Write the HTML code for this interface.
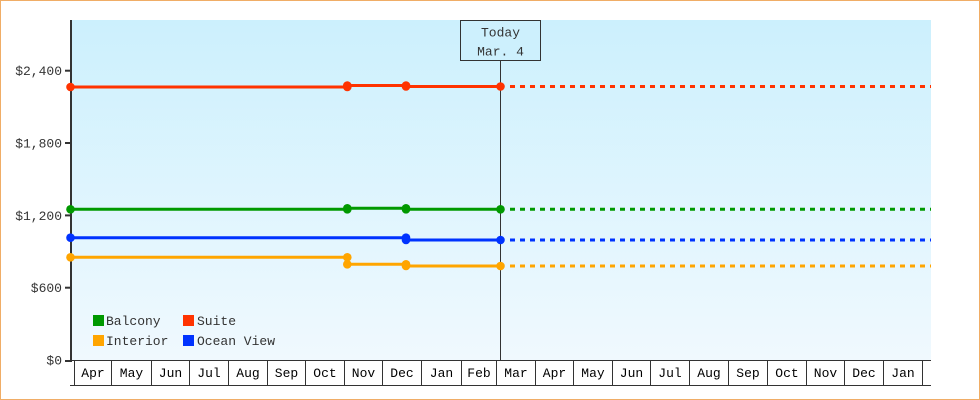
<!DOCTYPE html>
<html><head><meta charset="utf-8"><style>
html,body{margin:0;padding:0;background:#fff;}
svg{display:block;}
text{font-family:"Liberation Mono","DejaVu Sans Mono",monospace;font-size:13px;}
</style></head><body>
<svg width="980" height="400" viewBox="0 0 980 400" xmlns="http://www.w3.org/2000/svg">
<defs>
<linearGradient id="bg" x1="0" y1="0" x2="0" y2="1">
<stop offset="0" stop-color="#ccf0fd"/>
<stop offset="1" stop-color="#f0f9fe"/>
</linearGradient>
</defs>
<rect x="0.5" y="0.5" width="979" height="399" fill="#fff" stroke="#f0ad66" stroke-width="1"/>
<rect x="72" y="20" width="859" height="340" fill="url(#bg)"/>

<!-- y axis -->
<rect x="70" y="20" width="2" height="342" fill="#333"/>
<g fill="#333">
<rect x="65" y="69.7" width="5" height="2"/>
<rect x="65" y="142" width="5" height="2"/>
<rect x="65" y="214.4" width="5" height="2"/>
<rect x="65" y="286.7" width="5" height="2"/>
<rect x="65" y="360" width="5" height="2"/>
</g>
<g fill="#333" text-anchor="end">
<text x="62" y="75">$2,400</text>
<text x="62" y="147.5">$1,800</text>
<text x="62" y="220">$1,200</text>
<text x="62" y="292">$600</text>
<text x="62" y="364.5">$0</text>
</g>

<!-- month boxes -->
<g stroke="#333" stroke-width="1" fill="none">
<line x1="72" y1="360.5" x2="931" y2="360.5"/>
<line x1="70" y1="385.5" x2="931" y2="385.5"/>
<line x1="74.5" y1="360" x2="74.5" y2="385"/>
<line x1="111.5" y1="360" x2="111.5" y2="385"/>
<line x1="151.5" y1="360" x2="151.5" y2="385"/>
<line x1="189.5" y1="360" x2="189.5" y2="385"/>
<line x1="228.5" y1="360" x2="228.5" y2="385"/>
<line x1="267.5" y1="360" x2="267.5" y2="385"/>
<line x1="305.5" y1="360" x2="305.5" y2="385"/>
<line x1="344.5" y1="360" x2="344.5" y2="385"/>
<line x1="382.5" y1="360" x2="382.5" y2="385"/>
<line x1="421.5" y1="360" x2="421.5" y2="385"/>
<line x1="461.5" y1="360" x2="461.5" y2="385"/>
<line x1="496.5" y1="360" x2="496.5" y2="385"/>
<line x1="535.5" y1="360" x2="535.5" y2="385"/>
<line x1="573.5" y1="360" x2="573.5" y2="385"/>
<line x1="612.5" y1="360" x2="612.5" y2="385"/>
<line x1="650.5" y1="360" x2="650.5" y2="385"/>
<line x1="689.5" y1="360" x2="689.5" y2="385"/>
<line x1="728.5" y1="360" x2="728.5" y2="385"/>
<line x1="767.5" y1="360" x2="767.5" y2="385"/>
<line x1="806.5" y1="360" x2="806.5" y2="385"/>
<line x1="844.5" y1="360" x2="844.5" y2="385"/>
<line x1="883.5" y1="360" x2="883.5" y2="385"/>
<line x1="922.5" y1="360" x2="922.5" y2="385"/>
</g>
<g fill="#000" text-anchor="middle">
<text x="93" y="377">Apr</text>
<text x="131.5" y="377">May</text>
<text x="170.5" y="377">Jun</text>
<text x="209" y="377">Jul</text>
<text x="248" y="377">Aug</text>
<text x="286.5" y="377">Sep</text>
<text x="325" y="377">Oct</text>
<text x="363.5" y="377">Nov</text>
<text x="402" y="377">Dec</text>
<text x="441.5" y="377">Jan</text>
<text x="479" y="377">Feb</text>
<text x="516" y="377">Mar</text>
<text x="554.5" y="377">Apr</text>
<text x="593" y="377">May</text>
<text x="631.5" y="377">Jun</text>
<text x="670" y="377">Jul</text>
<text x="709" y="377">Aug</text>
<text x="748" y="377">Sep</text>
<text x="787" y="377">Oct</text>
<text x="825.5" y="377">Nov</text>
<text x="864" y="377">Dec</text>
<text x="903" y="377">Jan</text>
</g>

<!-- today line & box -->
<line x1="500.5" y1="60" x2="500.5" y2="360" stroke="#333" stroke-width="1"/>
<rect x="460.5" y="20.5" width="80" height="40" fill="#cdf0fd" stroke="#333" stroke-width="1"/>
<text x="500.5" y="36.5" text-anchor="middle" fill="#333">Today</text>
<text x="500.5" y="55.5" text-anchor="middle" fill="#333">Mar. 4</text>

<!-- series lines -->
<g stroke-width="3" fill="none">
<g stroke="#ff3300">
<line x1="70.5" y1="87" x2="347.3" y2="87"/>
<line x1="347.3" y1="85.5" x2="406" y2="85.5"/>
<line x1="406" y1="86.5" x2="500.5" y2="86.5"/>
<line x1="510" y1="86.5" x2="931" y2="86.5" stroke-dasharray="5 5"/>
</g>
<g stroke="#009900">
<line x1="70.5" y1="209.3" x2="347.3" y2="209.3"/>
<line x1="347.3" y1="208.3" x2="406" y2="208.3"/>
<line x1="406" y1="209.3" x2="500.5" y2="209.3"/>
<line x1="510" y1="209.3" x2="931" y2="209.3" stroke-dasharray="5 5"/>
</g>
<g stroke="#0033ff">
<line x1="70.5" y1="237.7" x2="406" y2="237.7"/>
<line x1="406" y1="240" x2="500.5" y2="240"/>
<line x1="510" y1="240" x2="931" y2="240" stroke-dasharray="5 5"/>
</g>
<g stroke="#ffa500">
<line x1="70.5" y1="257.3" x2="347.3" y2="257.3"/>
<line x1="347.3" y1="264.3" x2="406" y2="264.3"/>
<line x1="406" y1="266" x2="500.5" y2="266"/>
<line x1="510" y1="266" x2="931" y2="266" stroke-dasharray="5 5"/>
</g>
</g>

<!-- markers -->
<g fill="#ff3300">
<circle cx="70.5" cy="87" r="4.3"/>
<circle cx="347.3" cy="87" r="4.3"/><circle cx="347.3" cy="85.5" r="4.3"/>
<circle cx="406" cy="85.5" r="4.3"/><circle cx="406" cy="86.5" r="4.3"/>
<circle cx="500.5" cy="86.5" r="4.3"/>
</g>
<g fill="#009900">
<circle cx="70.5" cy="209.3" r="4.3"/>
<circle cx="347.3" cy="209.3" r="4.3"/><circle cx="347.3" cy="208.3" r="4.3"/>
<circle cx="406" cy="208.3" r="4.3"/><circle cx="406" cy="209.3" r="4.3"/>
<circle cx="500.5" cy="209.3" r="4.3"/>
</g>
<g fill="#0033ff">
<circle cx="70.5" cy="237.7" r="4.3"/>
<circle cx="406" cy="237.7" r="4.3"/><circle cx="406" cy="240" r="4.3"/>
<circle cx="500.5" cy="240" r="4.3"/>
</g>
<g fill="#ffa500">
<circle cx="70.5" cy="257.3" r="4.3"/>
<circle cx="347.3" cy="257.3" r="4.3"/><circle cx="347.3" cy="264.3" r="4.3"/>
<circle cx="406" cy="264.3" r="4.3"/><circle cx="406" cy="266" r="4.3"/>
<circle cx="500.5" cy="266" r="4.3"/>
</g>

<!-- legend -->
<rect x="93" y="315" width="11" height="11" fill="#009900"/>
<rect x="93" y="335" width="11" height="11" fill="#ffa500"/>
<rect x="183" y="315" width="11" height="11" fill="#ff3300"/>
<rect x="183" y="335" width="11" height="11" fill="#0033ff"/>
<g fill="#333">
<text x="106" y="325">Balcony</text>
<text x="106" y="345">Interior</text>
<text x="197" y="325">Suite</text>
<text x="197" y="345">Ocean View</text>
</g>
</svg>
</body></html>
